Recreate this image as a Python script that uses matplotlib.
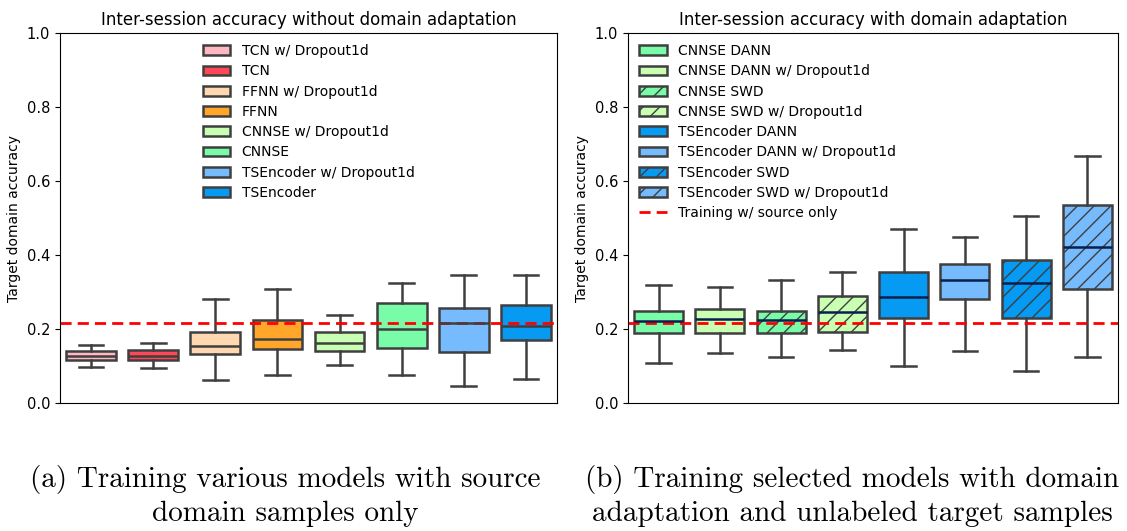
import matplotlib
matplotlib.use("Agg")
import matplotlib.pyplot as plt
from matplotlib.patches import Patch
from matplotlib.lines import Line2D

# ---------------- data ----------------
left_labels = ["TCN w/ Dropout1d", "TCN", "FFNN w/ Dropout1d", "FFNN",
               "CNNSE w/ Dropout1d", "CNNSE", "TSEncoder w/ Dropout1d", "TSEncoder"]
left_whislo = [0.097, 0.095, 0.062, 0.075, 0.103, 0.075, 0.047, 0.065]
left_q1     = [0.117, 0.117, 0.133, 0.147, 0.140, 0.150, 0.138, 0.169]
left_med    = [0.128, 0.128, 0.153, 0.173, 0.162, 0.201, 0.216, 0.207]
left_q3     = [0.141, 0.142, 0.192, 0.223, 0.192, 0.270, 0.258, 0.266]
left_whishi = [0.156, 0.163, 0.282, 0.307, 0.238, 0.323, 0.345, 0.345]
left_colors = ["#ffb7c3", "#ff4757", "#ffd8b1", "#ffa62b",
               "#c8ffb3", "#78fca8", "#75bbfd", "#069af3"]

right_labels = ["CNNSE DANN", "CNNSE DANN w/ Dropout1d", "CNNSE SWD", "CNNSE SWD w/ Dropout1d",
                "TSEncoder DANN", "TSEncoder DANN w/ Dropout1d", "TSEncoder SWD",
                "TSEncoder SWD w/ Dropout1d"]
right_whislo = [0.107, 0.135, 0.124, 0.142, 0.100, 0.140, 0.086, 0.123]
right_q1     = [0.189, 0.189, 0.189, 0.192, 0.229, 0.280, 0.230, 0.309]
right_med    = [0.221, 0.227, 0.225, 0.246, 0.287, 0.332, 0.323, 0.421]
right_q3     = [0.248, 0.255, 0.248, 0.289, 0.353, 0.376, 0.386, 0.534]
right_whishi = [0.320, 0.313, 0.333, 0.353, 0.470, 0.450, 0.505, 0.668]
right_colors = ["#78fca8", "#c8ffb3", "#78fca8", "#c8ffb3",
                "#069af3", "#75bbfd", "#069af3", "#75bbfd"]
right_hatch = ["", "", "//", "//", "", "", "//", "//"]

source_only = 0.216
yticks = [0.0, 0.2, 0.4, 0.6, 0.8, 1.0]

title_left = "Inter-session accuracy without domain adaptation"
title_right = "Inter-session accuracy with domain adaptation"
ylabel = "Target domain accuracy"
caption_a = "(a) Training various models with source\ndomain samples only"
caption_b = "(b) Training selected models with domain\nadaptation and unlabeled target samples"
line_label = "Training w/ source only"

# ---------------- drawing ----------------
plt.rcParams["hatch.color"] = "#3f3f3f"
plt.rcParams["hatch.linewidth"] = 1.0
EDGE = "#3f3f3f"

fig = plt.figure(figsize=(11.27, 5.31), dpi=100)
W, H = 1127, 531
axL = fig.add_axes([60 / W, 1 - 403 / H, (557 - 60) / W, (403 - 33) / H])
axR = fig.add_axes([628 / W, 1 - 403 / H, (1118 - 628) / W, (403 - 33) / H])


def draw(ax, labels, lo, q1, med, q3, hi, colors, hatches, medcolor):
    stats = []
    for i in range(len(labels)):
        stats.append(dict(label=labels[i], whislo=lo[i], q1=q1[i], med=med[i],
                          q3=q3[i], whishi=hi[i], fliers=[]))
    bp = ax.bxp(stats, positions=list(range(len(labels))), widths=0.8,
                patch_artist=True, showfliers=False,
                boxprops=dict(edgecolor=EDGE, linewidth=1.8),
                whiskerprops=dict(color=EDGE, linewidth=1.8),
                capprops=dict(color=EDGE, linewidth=1.8),
                medianprops=dict(color=medcolor, linewidth=1.8))
    for patch, c, h in zip(bp["boxes"], colors, hatches):
        patch.set_facecolor(c)
        patch.set_hatch(h)
    ax.set_xlim(-0.5, len(labels) - 0.5)
    ax.set_ylim(0, 1.0)
    ax.set_yticks(yticks)
    ax.set_xticks([])
    ax.tick_params(axis="y", labelsize=10.5)
    ax.set_ylabel(ylabel, fontsize=10)
    ax.axhline(source_only, color="red", ls="--", lw=2, dashes=(4, 2.2))


draw(axL, left_labels, left_whislo, left_q1, left_med, left_q3, left_whishi,
     left_colors, [""] * 8, EDGE)
draw(axR, right_labels, right_whislo, right_q1, right_med, right_q3, right_whishi,
     right_colors, right_hatch, "#0b1f4d")

axL.set_title(title_left, fontsize=12)
axR.set_title(title_right, fontsize=12)

hL = [Patch(facecolor=c, edgecolor=EDGE, linewidth=1.8, label=l)
      for c, l in zip(left_colors, left_labels)]
axL.legend(handles=hL, loc="upper center", frameon=False, fontsize=10,
           bbox_to_anchor=(0.5, 1.0), borderaxespad=0.4, labelspacing=0.45)

hR = [Patch(facecolor=c, edgecolor=EDGE, linewidth=1.8, hatch=h, label=l)
      for c, h, l in zip(right_colors, right_hatch, right_labels)]
hR.append(Line2D([0], [0], color="red", ls="--", lw=2, dashes=(4, 2.2), label=line_label))
axR.legend(handles=hR, loc="upper left", frameon=False, fontsize=10,
           borderaxespad=0.4, labelspacing=0.45)

fig.text(285 / W, 1 - 496 / H, caption_a, ha="center", va="center",
         fontsize=21, family="cmr10", linespacing=1.3)
fig.text(852 / W, 1 - 496 / H, caption_b, ha="center", va="center",
         fontsize=21, family="cmr10", linespacing=1.3)

fig.savefig("out.png", dpi=100)
